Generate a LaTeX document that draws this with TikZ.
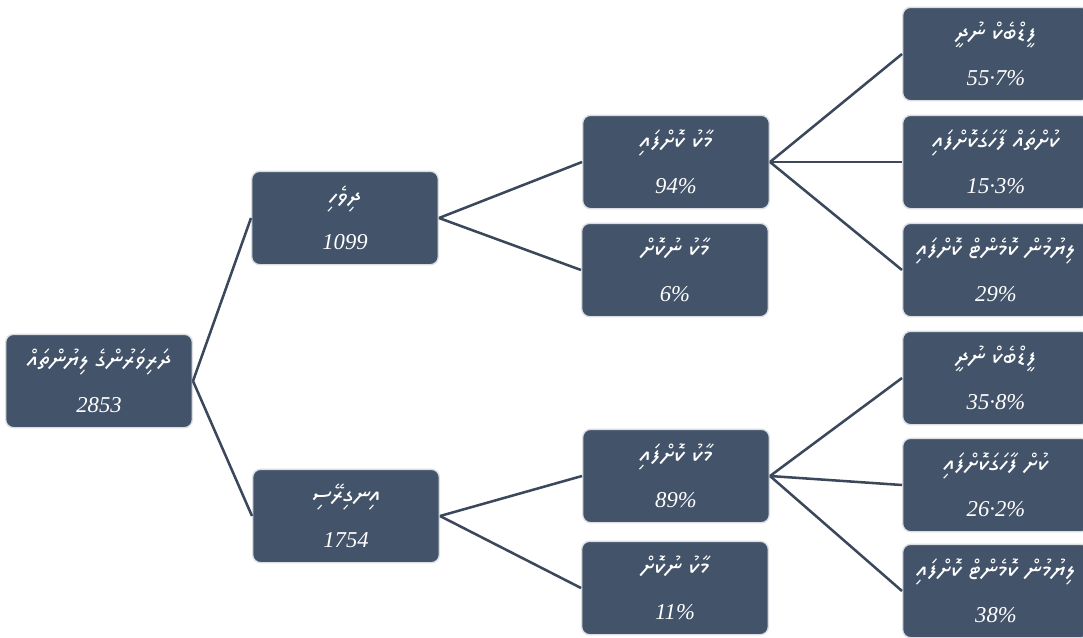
\documentclass[tikz,border=0pt]{standalone}
\usepackage{fontspec}
\TeXXeTstate=1
\setmainfont{Liberation Serif}
\IfFontExistsTF{Noto Sans Thaana}
  {\newfontfamily\thaana[Script=Thaana]{Noto Sans Thaana}}
  {\IfFontExistsTF{FreeSerif}
    {\newfontfamily\thaana[Script=Thaana]{FreeSerif}}
    {\newfontfamily\thaana{DejaVu Sans}}}
\newcommand\dv[1]{{\upshape\thaana\fontsize{19}{34}\selectfont\beginR #1\endR}}

\definecolor{boxfill}{HTML}{435369}
\definecolor{boxedge}{HTML}{DADDE2}
\definecolor{linkcol}{HTML}{3B475B}

\tikzset{
  box/.style={draw=boxedge, fill=boxfill, line width=1pt, rounded corners=6pt,
    minimum width=140pt, minimum height=70pt, inner sep=2pt, text=white,
    align=center, font=\fontsize{17}{34}\selectfont\itshape},
  link/.style={draw=linkcol, line width=1.9pt}
}

\begin{document}
\begin{tikzpicture}[x=0.75pt,y=-0.75pt]
\useasboundingbox (0,0) rectangle (1083,637);

% first two levels
\node[box] (total) at (99,381) {\dv{ދަރިވަރުންގެ ލިޔުންތައް}\\ 2853};
\node[box] (dhivehi) at (345,218) {\dv{ދިވެހި}\\ 1099};
\node[box] (english) at (346,516) {\dv{އިނގިރޭސި}\\ 1754};

\node[box] (dvmarked) at (676,162) {\dv{މާކު ކޮށްފައި}\\ 94\%};
\node[box] (dvunmarked) at (675,270) {\dv{މާކު ނުކޮށް}\\ 6\%};
\node[box] (enmarked) at (676,476) {\dv{މާކު ކޮށްފައި}\\ 89\%};
\node[box] (enunmarked) at (675,588) {\dv{މާކު ނުކޮށް}\\ 11\%};

% right column
\node[box] (dvnofb) at (996,54) {\dv{ފީޑްބެކް ނުދީ}\\ 55·7\%};
\node[box] (dverrors) at (996,162) {\dv{ކުށްތައް ފާހަގަކޮށްފައި}\\ 15·3\%};
\node[box] (dvcomment) at (996,270) {\dv{ލިޔުމުން ކޮމެންޓް ކޮށްފައި}\\ 29\%};
\node[box] (ennofb) at (996,378) {\dv{ފީޑްބެކް ނުދީ}\\ 35·8\%};
\node[box] (enerrors) at (996,485) {\dv{ކުށް ފާހަގަކޮށްފައި}\\ 26·2\%};
\node[box] (encomment) at (996,591) {\dv{ލިޔުމުން ކޮމެންޓް ކޮށްފައި}\\ 38\%};

\draw[link] (total.east) -- (dhivehi.west);
\draw[link] (total.east) -- (english.west);
\draw[link] (dhivehi.east) -- (dvmarked.west);
\draw[link] (dhivehi.east) -- (dvunmarked.west);
\draw[link] (english.east) -- (enmarked.west);
\draw[link] (english.east) -- (enunmarked.west);
\foreach \n in {dvnofb,dverrors,dvcomment}
  \draw[link] (dvmarked.east) -- (\n.west);
\foreach \n in {ennofb,enerrors,encomment}
  \draw[link] (enmarked.east) -- (\n.west);
\end{tikzpicture}
\end{document}
